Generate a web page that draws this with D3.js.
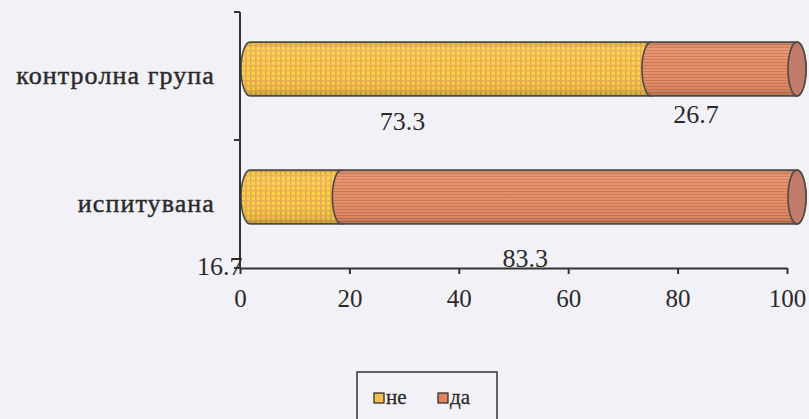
<!DOCTYPE html>
<html>
<head>
<meta charset="utf-8">
<script src="https://cdn.jsdelivr.net/npm/d3@7"></script>
<style>
  html, body { margin: 0; padding: 0; background: #f3f1f8; }
  svg { display: block; }
  text { font-family: "Liberation Serif", "DejaVu Serif", serif; fill: #2a2a2a; }
</style>
</head>
<body>
<svg id="chart" width="809" height="419"></svg>
<script>
// Groups (top to bottom) and the two answer series, in percent
const groups = ["контролна група", "испитувана"];
const seriesNames = ["не", "да"];
const seriesNe = [73.3, 16.7];
const seriesDa = [26.7, 83.3];
const xTicks = [0, 20, 40, 60, 80, 100];

const plot = { left: 240, right: 787, top: 12, bottom: 268 };
const depth = { dx: 10, dy: -7 };   // 3-D offset of the cylinders
const capRx = 9;                    // horizontal radius of the cylinder ellipses

const svg = d3.select("#chart");
const defs = svg.append("defs");

// Yellow checked fill
const pYellow = defs.append("pattern").attr("id", "pYellow")
  .attr("patternUnits", "userSpaceOnUse").attr("width", 5).attr("height", 5);
pYellow.append("rect").attr("width", 5).attr("height", 5).attr("fill", "#f9d445");
pYellow.append("rect").attr("x", 0).attr("width", 1.6).attr("height", 5).attr("fill", "#eca54e");
pYellow.append("rect").attr("y", 0).attr("width", 5).attr("height", 1.6).attr("fill", "#eeae50");

// Orange striped fill
const pOrange = defs.append("pattern").attr("id", "pOrange")
  .attr("patternUnits", "userSpaceOnUse").attr("width", 6).attr("height", 3);
pOrange.append("rect").attr("width", 6).attr("height", 3).attr("fill", "#e58f68");
pOrange.append("rect").attr("y", 2).attr("width", 6).attr("height", 1).attr("fill", "#cf7654");

// Cylinder shading
const shade = defs.append("linearGradient").attr("id", "shade")
  .attr("x1", 0).attr("y1", 0).attr("x2", 0).attr("y2", 1);
shade.append("stop").attr("offset", "0%").attr("stop-color", "#000").attr("stop-opacity", 0.12);
shade.append("stop").attr("offset", "12%").attr("stop-color", "#fff").attr("stop-opacity", 0.08);
shade.append("stop").attr("offset", "45%").attr("stop-color", "#fff").attr("stop-opacity", 0.0);
shade.append("stop").attr("offset", "88%").attr("stop-color", "#000").attr("stop-opacity", 0.06);
shade.append("stop").attr("offset", "100%").attr("stop-color", "#000").attr("stop-opacity", 0.22);

const fills = ["url(#pYellow)", "url(#pOrange)"];
const swatchFills = ["#f0be4c", "#df8460"];

const x = d3.scaleLinear().domain([0, 100]).range([plot.left, plot.right]);
const y = d3.scaleBand().domain(groups).range([plot.top, plot.bottom])
  .paddingInner(0.58).paddingOuter(0.29);

// stacked layout
const rows = groups.map((g, i) => ({ group: g, ne: seriesNe[i], da: seriesDa[i] }));
const stack = d3.stack().keys(["ne", "da"])(rows);

function cylinder(a, b, top, h) {
  const ry = h / 2;
  return `M${a},${top} L${b},${top} A${capRx},${ry} 0 0 1 ${b},${top + h}` +
         ` L${a},${top + h} A${capRx},${ry} 0 0 1 ${a},${top} Z`;
}

const barsG = svg.append("g");
const barH = y.bandwidth();
const outline = "#4d4a4a";

groups.forEach((g, gi) => {
  const top = y(g) + depth.dy;
  stack.forEach((layer, si) => {
    const [v0, v1] = layer[gi];
    const a = x(v0) + depth.dx, b = x(v1) + depth.dx;
    const d = cylinder(a, b, top, barH);
    barsG.append("path").attr("d", d).attr("fill", fills[si]);
    barsG.append("path").attr("d", d).attr("fill", "url(#shade)")
      .attr("stroke", outline).attr("stroke-width", 1.6);
    if (si === stack.length - 1) {
      barsG.append("ellipse").attr("cx", b).attr("cy", top + barH / 2)
        .attr("rx", capRx).attr("ry", barH / 2)
        .attr("fill", "#c07c68").attr("stroke", outline).attr("stroke-width", 1.6);
    }
  });
});

// Axes
const axisColor = "#333";
const yAxis = svg.append("g");
yAxis.append("line").attr("x1", plot.left).attr("x2", plot.left)
  .attr("y1", plot.top).attr("y2", plot.bottom)
  .attr("stroke", axisColor).attr("stroke-width", 2);
[plot.top, (plot.top + plot.bottom) / 2, plot.bottom].forEach(ty => {
  yAxis.append("line").attr("x1", plot.left - 6).attr("x2", plot.left)
    .attr("y1", ty).attr("y2", ty).attr("stroke", axisColor).attr("stroke-width", 2);
});

const xAxis = svg.append("g").attr("transform", `translate(0,${plot.bottom})`)
  .call(d3.axisBottom(x).tickValues(xTicks).tickSize(6).tickSizeOuter(0).tickPadding(15));
xAxis.select(".domain").attr("stroke", axisColor).attr("stroke-width", 2);
xAxis.selectAll(".tick line").attr("stroke", axisColor).attr("stroke-width", 2);
xAxis.selectAll(".tick text").attr("font-size", 25).attr("font-family", "Liberation Serif")
  .attr("fill", "#2a2a2a");

// Group labels
svg.append("g").selectAll("text").data(groups).join("text")
  .attr("x", 215)
  .attr("y", g => y(g) + barH / 2 + 8)
  .attr("text-anchor", "end")
  .attr("font-size", 26)
  .attr("letter-spacing", 1.1)
  .attr("stroke", "#2a2a2a").attr("stroke-width", 0.45)
  .text(d => d);

// Value labels under each segment: [dx from segment middle, dy from bar bottom]
const labelNudge = [
  [[-38, 34], [-18, 27]],
  [[-66, 51], [-34, 43]]
];
const lblG = svg.append("g");
groups.forEach((g, gi) => {
  const bottom = y(g) + depth.dy + barH;
  stack.forEach((layer, si) => {
    const [v0, v1] = layer[gi];
    const [ndx, ndy] = labelNudge[gi][si];
    lblG.append("text")
      .attr("x", x((v0 + v1) / 2) + ndx)
      .attr("y", bottom + ndy)
      .attr("text-anchor", "middle")
      .attr("font-size", 26)
      .text((v1 - v0).toFixed(1));
  });
});

// Legend
const lg = svg.append("g");
lg.append("rect").attr("x", 357).attr("y", 372).attr("width", 140).attr("height", 70)
  .attr("fill", "none").attr("stroke", "#333").attr("stroke-width", 1.5);
const items = [{ x: 374, tx: 386 }, { x: 438, tx: 450 }];
seriesNames.forEach((s, i) => {
  lg.append("rect").attr("x", items[i].x).attr("y", 393).attr("width", 10).attr("height", 10)
    .attr("fill", swatchFills[i]).attr("stroke", "#333").attr("stroke-width", 1.3);
  lg.append("text").attr("x", items[i].tx).attr("y", 404).attr("font-size", 21)
    .attr("stroke", "#2a2a2a").attr("stroke-width", 0.3).text(s);
});
</script>
</body>
</html>
